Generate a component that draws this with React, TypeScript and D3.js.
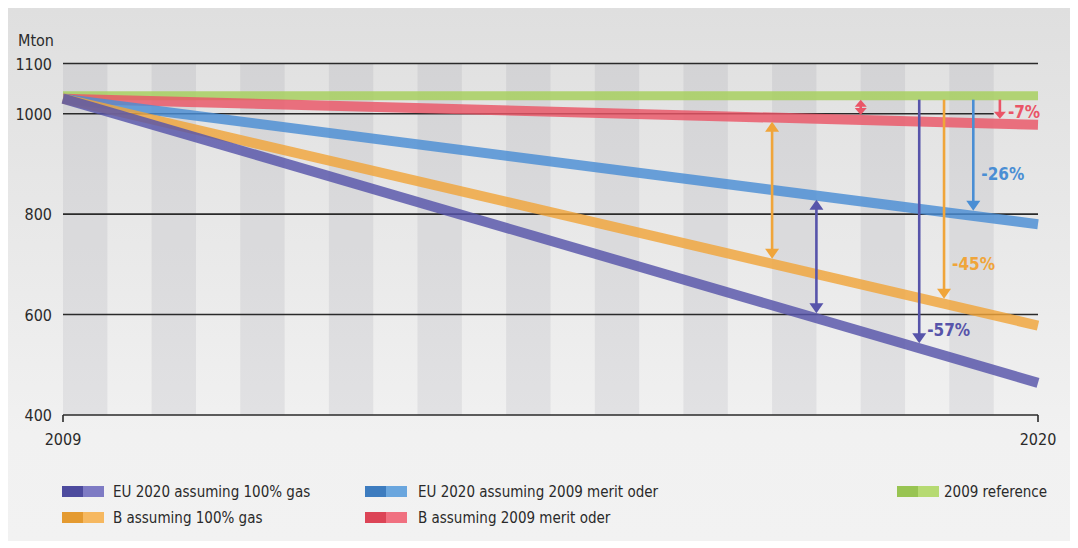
import * as d3 from "d3"

// Years on the x axis and the five scenario series (Mton)
const years = [2009, 2020]
const euGas = [1030, 464]
const euMerit = [1030, 780]
const bGas = [1030, 578]
const bMerit = [1030, 978]
const ref2009 = [1036, 1036]

const yTicks = [400, 600, 800, 1000, 1100]
const xTickLabels = ["2009", "2020"]

const legendNames = [
  "EU 2020 assuming 100% gas",
  "B assuming 100% gas",
  "EU 2020 assuming 2009 merit oder",
  "B assuming 2009 merit oder",
  "2009 reference",
]

// arrows: year position, from series, to series, colour series, label, label value
const arrowYears = [2017, 2017.5, 2018, 2018.66, 2018.94, 2019.27, 2019.57]
const arrowFrom = ["bMerit", "euMerit", "ref", "ref", "ref", "ref", "ref"]
const arrowTo = ["bGas", "euGas", "bMerit", "euGas", "bGas", "euMerit", "bMerit"]
const arrowColor = ["bGas", "euGas", "bMerit", "euGas", "bGas", "euMerit", "bMerit"]
const arrowBoth = [true, true, true, false, false, false, false]
const arrowLabels = ["", "", "", "-57%", "-45%", "-26%", "-7%"]
const arrowLabelAt = [0, 0, 0, 570, 700, 880, 1004]

const W = 1078
const H = 548
const font = "'Liberation Sans Narrow', 'DejaVu Sans Condensed', 'Arial Narrow', sans-serif"

type Series = { key: string; values: number[]; dark: string; light: string; line: string }

const series: Series[] = [
  { key: "euGas", values: euGas, dark: "#4d4b9e", light: "#7e7bc4", line: "#5754aa" },
  { key: "bGas", values: bGas, dark: "#e49a30", light: "#f6b860", line: "#f0a53a" },
  { key: "euMerit", values: euMerit, dark: "#3d7cbf", light: "#6aa6de", line: "#4a8ed4" },
  { key: "bMerit", values: bMerit, dark: "#dc4456", light: "#f07080", line: "#ea5567" },
  { key: "ref", values: ref2009, dark: "#98c452", light: "#b6da72", line: "#a6d05c" },
]

export default function App() {
  const x = d3.scaleLinear().domain([years[0], years[1]]).range([63, 1038])
  const y = d3.scaleLinear().domain([400, 1100]).range([415, 63.5])

  const valueAt = (key: string, yr: number) => {
    const s = series.find((d) => d.key === key)!
    const t = (yr - years[0]) / (years[1] - years[0])
    return s.values[0] + (s.values[1] - s.values[0]) * t
  }
  const colorOf = (key: string) => series.find((d) => d.key === key)!.line

  const stripes = d3.range(years[0], years[1])
  const lineGen = d3
    .line<number>()
    .x((_, i) => x(years[i]))
    .y((d) => y(d))

  // draw order: ref first, then others on top
  const drawOrder = ["ref", "bMerit", "euMerit", "bGas", "euGas"]

  const legendPos = [
    { sx: 62, tx: 113, row: 0 },
    { sx: 62, tx: 113, row: 1 },
    { sx: 365, tx: 418, row: 0 },
    { sx: 365, tx: 418, row: 1 },
    { sx: 897, tx: 944, row: 0 },
  ]

  return (
    <svg
      width={W}
      height={H}
      style={{ position: "absolute", left: 0, top: 0 }}
      fontFamily={font}
    >
      <defs>
        <linearGradient id="bg" x1="0" y1="0" x2="0" y2="1">
          <stop offset="0" stopColor="#dfdfdf" />
          <stop offset="0.8" stopColor="#f1f1f1" />
          <stop offset="1" stopColor="#f2f2f2" />
        </linearGradient>
      </defs>
      <rect width={W} height={H} fill="#ffffff" />
      <rect x={8} y={8} width={1062} height={533} fill="url(#bg)" />

      {/* vertical stripes */}
      {stripes.map((yr) => (
        <rect
          key={yr}
          x={x(yr)}
          y={y(1100)}
          width={x(yr + 0.5) - x(yr)}
          height={y(400) - y(1100)}
          fill="rgba(70,70,90,0.085)"
        />
      ))}

      {/* gridlines */}
      {yTicks.map((t) => (
        <line
          key={t}
          x1={x(years[0])}
          x2={t === 1000 ? x(2019.5) : x(years[1])}
          y1={y(t)}
          y2={y(t)}
          stroke="#2a2a2a"
          strokeWidth={1.6}
        />
      ))}
      <line x1={x(years[0])} x2={x(years[0])} y1={y(400)} y2={y(400) + 7} stroke="#2a2a2a" strokeWidth={1.6} />
      <line x1={x(years[1])} x2={x(years[1])} y1={y(400)} y2={y(400) + 7} stroke="#2a2a2a" strokeWidth={1.6} />

      {/* y tick labels */}
      {yTicks.map((t) => (
        <text key={t} x={52} y={y(t) + 6} textAnchor="end" fontSize={16} fill="#2a2a2a">
          {t}
        </text>
      ))}
      <text x={18} y={46} fontSize={16} fill="#2a2a2a">
        Mton
      </text>
      {xTickLabels.map((l, i) => (
        <text key={l} x={x(years[i])} y={445} textAnchor="middle" fontSize={16} fill="#2a2a2a">
          {l}
        </text>
      ))}

      {/* series lines */}
      {drawOrder.map((k) => {
        const s = series.find((d) => d.key === k)!
        return (
          <path
            key={k}
            d={lineGen(s.values) || ""}
            fill="none"
            stroke={s.line}
            strokeWidth={k === "ref" ? 9 : 10}
            strokeOpacity={0.82}
          />
        )
      })}

      {/* arrows */}
      {arrowYears.map((yr, i) => {
        const c = colorOf(arrowColor[i])
        const ax = x(yr)
        const y1 = y(valueAt(arrowFrom[i], yr)) + 4
        const y2 = y(valueAt(arrowTo[i], yr)) - 5
        const short = y2 - y1 < 30
        const hw = short ? 6 : 7
        const hh = short ? 7 : 10
        return (
          <g key={i}>
            <line
              x1={ax}
              x2={ax}
              y1={arrowBoth[i] ? y1 + hh - 1 : y1}
              y2={y2 - hh + 1}
              stroke={c}
              strokeWidth={2.6}
            />
            <path d={`M${ax - hw},${y2 - hh}L${ax + hw},${y2 - hh}L${ax},${y2}Z`} fill={c} />
            {arrowBoth[i] && <path d={`M${ax - hw},${y1 + hh}L${ax + hw},${y1 + hh}L${ax},${y1}Z`} fill={c} />}
            {arrowLabels[i] && (
              <text x={ax + 8} y={y(arrowLabelAt[i]) + 6} fontSize={17} fontWeight="bold" fill={c}>
                {arrowLabels[i]}
              </text>
            )}
          </g>
        )
      })}

      {/* legend */}
      {series.map((s, i) => {
        const p = legendPos[i]
        const ry = 486 + p.row * 26
        return (
          <g key={s.key}>
            <rect x={p.sx} y={ry} width={21} height={11} fill={s.dark} />
            <rect x={p.sx + 21} y={ry} width={21} height={11} fill={s.light} />
            <text x={p.tx} y={ry + 11} fontSize={15} fill="#2a2a2a">
              {legendNames[i]}
            </text>
          </g>
        )
      })}
    </svg>
  )
}
